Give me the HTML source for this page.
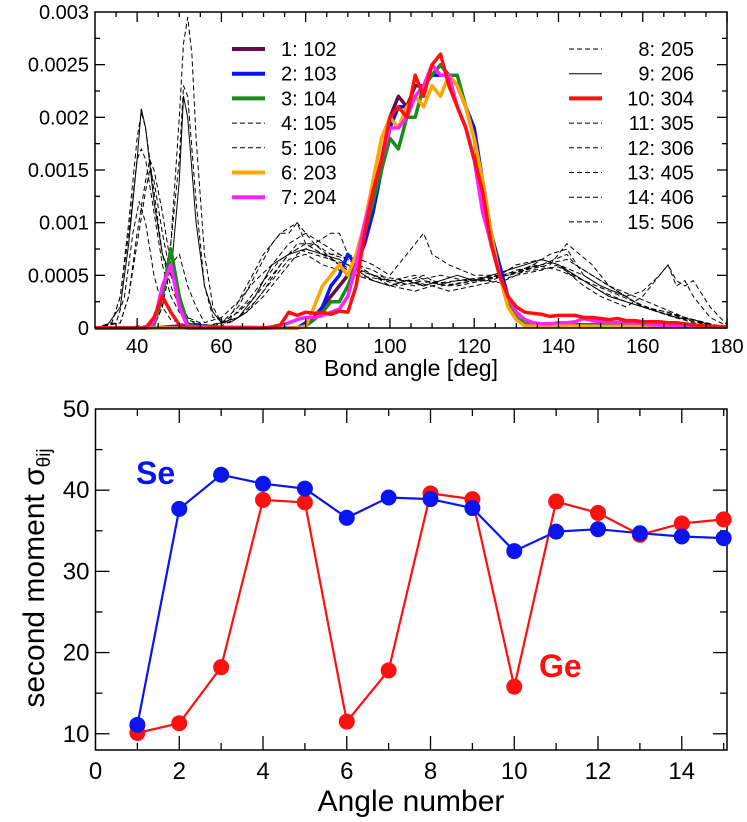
<!DOCTYPE html>
<html><head><meta charset="utf-8"><style>
html,body{margin:0;padding:0;background:#fff;}
svg{display:block;font-family:"Liberation Sans",sans-serif;}
</style></head><body>
<svg id="fig" width="747" height="822" viewBox="0 0 747 822" xmlns="http://www.w3.org/2000/svg">
<g id="topPanel"></g>
<g id="botPanel"></g>
</svg>
<script>
// ---------- TOP PANEL DATA (values in units of 1e-4) ----------
const topXTicks = [40,60,80,100,120,140,160,180];
const topYTicks = [0,0.0005,0.001,0.0015,0.002,0.0025,0.003];
const topYTickLabels = ["0","0.0005","0.001","0.0015","0.002","0.0025","0.003"];

const c1X = [30,78,80,82,84,86,88,90,92,94,96,98,100,102,104,106,108,110,112,114,116,118,120,122,124,126,128,130,132,134,180];
const c1Y = [0,0,0.3,1,2,3,4,5,6,9,12,16,20,22,21,23,23,24,25,24,23,21,18,13,8,5,2.5,1,0.4,0.2,0.1];
const c2X = [30,44,54,58,78,80,82,84,86,88,90,92,94,96,98,100,102,104,106,108,110,112,114,116,118,120,122,124,126,128,130,132,134,150,180];
const c2Y = [0,0,0.3,0,0,0.5,1,2,4,5,7,6,8,11,15,19,21,21,22,23,24,24,24,23,21,19,14,9,6,3,1,0.3,0.2,0.2,0.1];
const c3X = [30,42,44,46,48,50,52,54,78,80,82,84,86,88,90,92,94,96,98,100,102,104,106,108,110,112,114,116,118,120,122,124,126,128,130,132,134,160,170,180];
const c3Y = [0,0,0.3,3,7.5,3,0.3,0.1,0,0.2,0.8,1.5,2.5,2.5,4,6,9,12,15,18,17,20,20,23,24,25,24,24,21,18,14,9,5,2.5,1,0.4,0.3,0.3,0.2,0.1];
const c6X = [30,78,80,82,84,86,88,90,92,94,96,98,100,102,104,106,108,110,112,114,116,118,120,122,124,126,128,130,132,180];
const c6Y = [0,0,0.2,2,4,5,6,5,7,10,14,18,20,19,21,22,21,23,22,24,23,21,18,14,9,5,2,0.8,0.2,0.1];
const c7X = [30,42,44,46,48,50,52,72,74,76,78,80,82,84,86,88,90,92,94,96,98,100,102,104,106,108,110,112,114,116,118,120,122,124,126,128,130,132,134,136,138,140,142,144,146,148,150,154,158,162,170,180];
const c7Y = [0,0,0.5,4,6,2,0.1,0,0.2,0.5,0.8,1,1,1.2,1.5,1.8,3,6,10,13,16,19,19,20,22,23,25,24,24,21,19,16,11,8,5,3,1.5,0.8,0.5,0.4,0.4,0.5,0.5,0.6,0.9,0.7,0.6,0.5,0.5,0.3,0.2,0.1];
const c10X = [30,42,44,46,48,50,52,70,72,74,76,78,80,82,84,86,88,90,92,94,96,98,100,102,104,106,108,110,112,114,116,118,120,122,124,126,128,130,132,134,136,138,140,142,144,146,148,150,152,154,156,158,160,162,164,166,168,170,172,174,180];
const c10Y = [0,0,1,3,1.5,0.3,0,0,0.1,0.3,1.5,1.2,1.5,1.4,1.5,1.3,1.6,1.5,4,9,13,16,20,21,20,24,22,25,26,23,21,19,16,13,8,5,3,2,1.5,1.4,1.3,1.1,1.2,1.2,1.2,1.0,1.0,0.9,0.8,0.9,0.7,0.7,0.6,0.6,0.6,0.5,0.5,0.4,0.3,0.2,0.1,0.1];

const c4X = [30,34,36,38,40,41,42,44,46,48,50,52,56,60,64,68,72,74,76,78,80,84,88,92,100,106,110,116,120,126,130,134,140,146,150,156,160,166,170,176,180];
const c4Y = [0,0.5,3,9,16,17,16,11,6,3,1.5,0.5,0.1,0.5,2,5,8,9,9,10,8,7,6,5,4.5,5,4.2,4.5,4.6,4.3,5,6,5.5,4.5,3.5,2.5,2,1.5,0.8,0.3,0.1];
const c5X = [30,36,38,40,42,43,44,46,48,50,52,54,58,62,66,70,74,78,82,88,96,104,108,112,120,128,136,142,144,152,160,168,176,180];
const c5Y = [0,0.5,3,9,14,16,15,11,6,3,1,0.3,0.1,1,4,7,9,10,8,6,5,4.5,5,4,4.5,5,6,7,6,4,2,1,0.3,0];
const c8X = [30,44,46,48,50,51,52,53,54,56,58,60,62,66,70,74,78,82,86,88,90,96,100,104,108,110,114,120,126,130,136,140,146,150,156,160,164,166,168,170,172,176,180];
const c8Y = [0,0.1,2,8,20,27,29.5,26,18,7,2,0.5,0.5,1.5,3,5,7,8,9,9,7,6,5,7,9,7,6,5,5,6,6.5,6,4,3,2,3,5,6,4,4.5,3,1,0.2];
const c9X = [30,33,36,38,40,41,42,44,46,48,50,51,52,54,56,58,60,64,68,72,76,80,84,88,92,96,100,104,108,112,116,120,124,128,132,136,140,144,148,152,156,160,164,168,172,176,180];
const c9Y = [0,0.3,2,8,16,20.8,19,12,7,5,14,22,20,10,4,1.5,0.5,1,3,6,7,7.5,7,6.5,5.5,4.5,4,4.5,4,4.5,5,4.5,5,5.5,6,6.5,6,5,4,3,2.5,2,1.5,1,0.8,0.3,0.1];
const c11X = [30,34,36,38,40,41,42,44,46,48,50,52,56,60,64,68,72,76,80,84,88,92,96,100,106,110,116,122,128,134,138,142,146,150,156,160,166,170,176,180];
const c11Y = [0,0.5,3,10,18,20.5,19,13,7,4,2,0.8,0.2,0.5,1.5,3,5,7,8,7,7,6,5.5,4.5,4,4.5,4,4.5,5,6,7,7.5,5,4,3,2,1.5,1,0.3,0.1];
const c12X = [30,35,37,39,40.5,42,44,46,48,52,58,62,66,70,74,78,82,86,90,96,100,106,112,118,124,130,136,142,148,154,160,166,172,180];
const c12Y = [0,0.5,3,9,12,10,5,2,0.8,0.2,0.1,0.8,2.5,4.5,6.5,7.5,7,6.5,6,5,4.5,4.5,5,4.5,4.5,5.5,6,6.5,5,3.5,2,1.2,0.5,0];
const c13X = [30,42,44,46,48,50,51,52,54,56,58,62,66,70,74,78,82,86,90,96,102,108,114,120,126,132,138,142,148,152,158,164,170,176,180];
const c13Y = [0,0.2,1,4,8,16,23,22,12,4,1,0.5,1.5,3.5,6,8,8,7,6.5,5,4,4.5,4,4.5,5,5.5,6,8,6,4,3,2,1,0.4,0];
const c14X = [30,36,38,40,42,43,44,46,48,50,52,56,60,64,68,72,76,80,84,88,92,96,100,104,110,116,122,128,134,140,146,152,158,164,170,176,180];
const c14Y = [0,0.5,3,8,13,15,14,9,5,2.5,1,0.3,0.2,1,2.5,4.5,6.5,7,6,5.5,5,4.5,4,4.5,4,4.5,4.8,5,5.5,5.8,4.5,3.5,2.5,1.5,1,0.4,0];
const c15X = [30,44,46,48,50,52,54,56,60,64,68,72,76,80,84,88,92,96,100,106,110,114,120,126,130,136,140,146,150,156,160,164,166,168,170,172,176,180];
const c15Y = [0,0.2,2,6,7,4,2,0.5,1,2.5,4.5,6,8,9,8,7,6,5,4,3.5,4,3.5,4,4.5,5,5.5,6,5,4,3,3.5,5,6,4.5,4,4.5,2,0.3];

const seriesLabels = ["1: 102","2: 103","3: 104","4: 105","5: 106","6: 203","7: 204","8: 205","9: 206","10: 304","11: 305","12: 306","13: 405","14: 406","15: 506"];

// ---------- BOTTOM PANEL DATA ----------
const angleNumbers = [1,2,3,4,5,6,7,8,9,10,11,12,13,14,15];
const seValues = [11.1,37.7,41.9,40.8,40.2,36.6,39.1,38.9,37.8,32.5,34.9,35.2,34.7,34.3,34.1];
const geValues = [10.1,11.3,18.2,38.8,38.5,11.5,17.8,39.6,38.9,15.8,38.6,37.2,34.5,35.9,36.4];
const botXTicks = [0,2,4,6,8,10,12,14];
const botYTicks = [10,20,30,40,50];

const NS = "http://www.w3.org/2000/svg";
function mk(parent, tag, attrs, text){
  const e = document.createElementNS(NS, tag);
  for (const k in attrs) e.setAttribute(k, attrs[k]);
  if (text !== undefined) e.textContent = text;
  parent.appendChild(e);
  return e;
}

// ---------- TOP PANEL ----------
const topG = document.getElementById('topPanel');
const T = {l:95, r:727, t:12, b:328, x0:30, x1:180, y0:0, y1:0.003};
const tx = v => T.l + (v - T.x0) / (T.x1 - T.x0) * (T.r - T.l);
const ty = v => T.b - (v - T.y0) / (T.y1 - T.y0) * (T.b - T.t);
const SC = 1e-4;

const curves = [
  {x:c4X,y:c4Y,c:"#000",w:1,d:"5,3",n:"curve-105"},
  {x:c5X,y:c5Y,c:"#000",w:1,d:"5,3",n:"curve-106"},
  {x:c8X,y:c8Y,c:"#000",w:1,d:"5,3",n:"curve-205"},
  {x:c9X,y:c9Y,c:"#000",w:1,d:"",n:"curve-206"},
  {x:c11X,y:c11Y,c:"#000",w:1,d:"5,3",n:"curve-305"},
  {x:c12X,y:c12Y,c:"#000",w:1,d:"5,3",n:"curve-306"},
  {x:c13X,y:c13Y,c:"#000",w:1,d:"5,3",n:"curve-405"},
  {x:c14X,y:c14Y,c:"#000",w:1,d:"5,3",n:"curve-406"},
  {x:c15X,y:c15Y,c:"#000",w:1,d:"5,3",n:"curve-506"},
  {x:c1X,y:c1Y,c:"#6b0a4a",w:3.5,d:"",n:"curve-102"},
  {x:c2X,y:c2Y,c:"#0a14f0",w:3.5,d:"",n:"curve-103"},
  {x:c3X,y:c3Y,c:"#1a8a1a",w:3.5,d:"",n:"curve-104"},
  {x:c6X,y:c6Y,c:"#ffa500",w:3.5,d:"",n:"curve-203"},
  {x:c7X,y:c7Y,c:"#ff22ff",w:3.5,d:"",n:"curve-204"},
  {x:c10X,y:c10Y,c:"#ff1010",w:3.5,d:"",n:"curve-304"}
];
curves.forEach(cv => {
  let d = "";
  cv.x.forEach((a,i) => { d += (i ? "L" : "M") + tx(a).toFixed(1) + "," + ty(cv.y[i]*SC).toFixed(1); });
  const p = mk(topG, "path", {d:d, fill:"none", stroke:cv.c, "stroke-width":cv.w, "stroke-dasharray":cv.d, "stroke-linejoin":"round"});
  
  
});
const tf = mk(topG, "rect", {x:T.l, y:T.t, width:T.r-T.l, height:T.b-T.t, fill:"none", stroke:"#000", "stroke-width":1.5});


for (let a = 35; a <= 180; a += 5) {
  const major = a % 20 === 0;
  const L = major ? 10 : 5;
  mk(topG, "line", {x1:tx(a), x2:tx(a), y1:T.b, y2:T.b-L, stroke:"#000", "stroke-width":1.3});
  mk(topG, "line", {x1:tx(a), x2:tx(a), y1:T.t, y2:T.t+L, stroke:"#000", "stroke-width":1.3});
}
for (let k = 1; k < 12; k++) {
  const v = k*0.00025, major = k % 2 === 0, L = major ? 10 : 5;
  mk(topG, "line", {x1:T.l, x2:T.l+L, y1:ty(v), y2:ty(v), stroke:"#000", "stroke-width":1.3});
  mk(topG, "line", {x1:T.r, x2:T.r-L, y1:ty(v), y2:ty(v), stroke:"#000", "stroke-width":1.3});
}
topXTicks.forEach(a => {
  const t = mk(topG, "text", {x:tx(a), y:T.b+25, "text-anchor":"middle", "font-size":20}, String(a));
  
  
});
topYTicks.forEach((v,i) => {
  const t = mk(topG, "text", {x:T.l-6, y:ty(v)+7, "text-anchor":"end", "font-size":20}, topYTickLabels[i]);
  
  
});
const txt = mk(topG, "text", {x:411, y:376, "text-anchor":"middle", "font-size":23}, "Bond angle [deg]");


const legendOrder = [
  {c:"#6b0a4a",w:4,d:""},{c:"#0a14f0",w:4,d:""},{c:"#1a8a1a",w:4,d:""},{c:"#000",w:1,d:"5,3"},{c:"#000",w:1,d:"5,3"},
  {c:"#ffa500",w:4,d:""},{c:"#ff22ff",w:4,d:""},{c:"#000",w:1,d:"5,3"},{c:"#000",w:1,d:""},{c:"#ff1010",w:4,d:""},
  {c:"#000",w:1,d:"5,3"},{c:"#000",w:1,d:"5,3"},{c:"#000",w:1,d:"5,3"},{c:"#000",w:1,d:"5,3"},{c:"#000",w:1,d:"5,3"}
];
seriesLabels.forEach((lab,i) => {
  const left = i < 7, row = left ? i : i - 7;
  const y = 49 + row*24.7;
  const g = mk(topG, "g", {});
  
  
  const st = legendOrder[i];
  const x1 = left ? 232 : 569;
  mk(g, "line", {x1:x1, x2:x1+33, y1:y, y2:y, stroke:st.c, "stroke-width":st.w, "stroke-dasharray":st.d});
  if (left) mk(g, "text", {x:281, y:y+7, "font-size":20}, lab);
  else mk(g, "text", {x:694, y:y+7, "font-size":20, "text-anchor":"end"}, lab);
});

// ---------- BOTTOM PANEL ----------
const botG = document.getElementById('botPanel');
const B = {l:95.5, r:727, t:409, b:750, x0:0, x1:15.08, y0:8, y1:50};
const bx = v => B.l + (v - B.x0) / (B.x1 - B.x0) * (B.r - B.l);
const by = v => B.b - (v - B.y0) / (B.y1 - B.y0) * (B.b - B.t);
const bf = mk(botG, "rect", {x:B.l, y:B.t, width:B.r-B.l, height:B.b-B.t, fill:"none", stroke:"#000", "stroke-width":1.5});


for (let a = 1; a <= 15; a++) {
  const L = a % 2 === 0 ? 14 : 7;
  mk(botG, "line", {x1:bx(a), x2:bx(a), y1:B.b, y2:B.b-L, stroke:"#000", "stroke-width":1.3});
  mk(botG, "line", {x1:bx(a), x2:bx(a), y1:B.t, y2:B.t+L, stroke:"#000", "stroke-width":1.3});
}
for (let v = 10; v < 50; v += 5) {
  const L = v % 10 === 0 ? 14 : 7;
  mk(botG, "line", {x1:B.l, x2:B.l+L, y1:by(v), y2:by(v), stroke:"#000", "stroke-width":1.3});
  mk(botG, "line", {x1:B.r, x2:B.r-L, y1:by(v), y2:by(v), stroke:"#000", "stroke-width":1.3});
}
botXTicks.forEach(a => {
  const t = mk(botG, "text", {x:bx(a), y:B.b+29, "text-anchor":"middle", "font-size":24}, String(a));
  
  
});
botYTicks.forEach(v => {
  const t = mk(botG, "text", {x:B.l-6, y:by(v)+8, "text-anchor":"end", "font-size":24}, String(v));
  
  
});
const bxt = mk(botG, "text", {x:411, y:811, "text-anchor":"middle", "font-size":30}, "Angle number");


const byt = mk(botG, "text", {x:0, y:0, "text-anchor":"middle", "font-size":30, transform:"translate(44,578) rotate(-90)"});


mk(byt, "tspan", {}, "second moment σ");
mk(byt, "tspan", {"font-size":19, dy:6}, "θij");

function drawSeries(vals, color, name){
  let d = "";
  angleNumbers.forEach((a,i) => { d += (i ? "L" : "M") + bx(a).toFixed(1) + "," + by(vals[i]).toFixed(1); });
  const p = mk(botG, "path", {d:d, fill:"none", stroke:color, "stroke-width":2.2});
  
  
  angleNumbers.forEach((a,i) => {
    const c = mk(botG, "circle", {cx:bx(a), cy:by(vals[i]), r:8, fill:color});
    
    
  });
}
drawSeries(geValues, "#ff1010", "ge");
drawSeries(seValues, "#0a14f0", "se");
const se = mk(botG, "text", {x:136, y:484, "font-size":32, "font-weight":"bold", fill:"#0a14f0"}, "Se");


const ge = mk(botG, "text", {x:539, y:677, "font-size":32, "font-weight":"bold", fill:"#ff1010"}, "Ge");


</script>
</body></html>
